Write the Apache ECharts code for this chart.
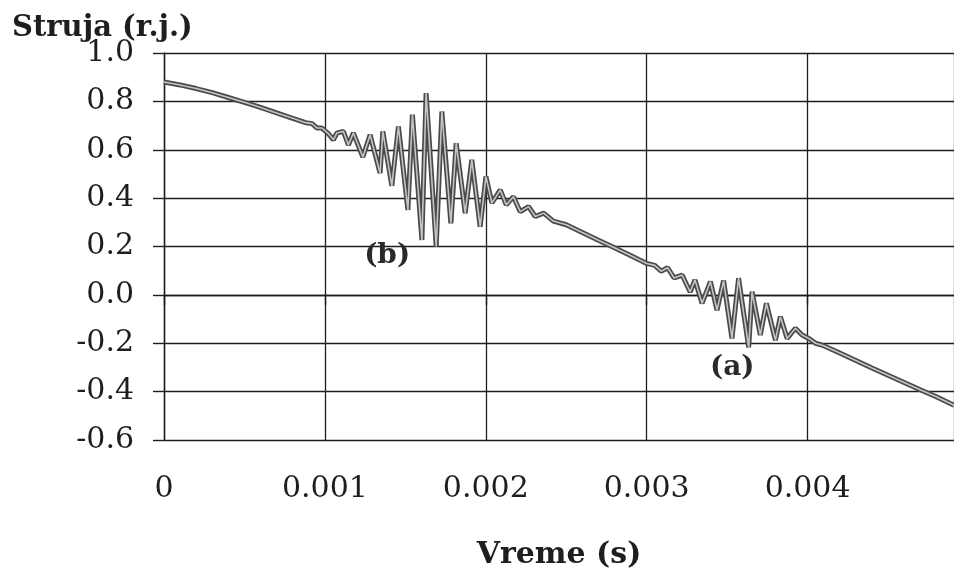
<!DOCTYPE html>
<html>
<head>
<meta charset="utf-8">
<title>Struja</title>
<script src="https://cdn.jsdelivr.net/npm/echarts@6/dist/echarts.min.js"></script>
<style>
  html, body { margin: 0; padding: 0; background: #fff; }
  #chart { width: 954px; height: 570px; }
</style>
</head>
<body>
<div id="chart"></div>
<script>
// time in ms
const timeMs = [
  0.00, 0.10, 0.20, 0.30, 0.40, 0.50, 0.60, 0.70, 0.80, 0.88, 0.92, 0.95, 0.98,
  1.02, 1.053, 1.074, 1.115, 1.146, 1.177, 1.236, 1.281, 1.343, 1.360, 1.416,
  1.457, 1.516, 1.544, 1.603, 1.629, 1.692, 1.727, 1.783, 1.816, 1.872, 1.913,
  1.965, 2.001, 2.038, 2.090, 2.127, 2.172, 2.214, 2.266, 2.307, 2.36, 2.42,
  2.50, 2.60, 2.70, 2.80, 2.90, 3.00, 3.05, 3.09, 3.13, 3.17, 3.22, 3.27, 3.30,
  3.344, 3.396, 3.437, 3.478, 3.530, 3.571, 3.634, 3.655, 3.706, 3.744, 3.800,
  3.831, 3.873, 3.924, 3.966, 4.007, 4.05, 4.10, 4.20, 4.30, 4.40, 4.50, 4.60,
  4.70, 4.80, 4.91
];
// current (r.j.)
const current = [
  0.880, 0.868, 0.853, 0.836, 0.816, 0.796, 0.775, 0.752, 0.730, 0.712, 0.708, 0.690, 0.690,
  0.668, 0.641, 0.669, 0.676, 0.620, 0.669, 0.570, 0.662, 0.503, 0.676, 0.451,
  0.696, 0.351, 0.745, 0.227, 0.834, 0.200, 0.758, 0.296, 0.627, 0.338, 0.558,
  0.282, 0.489, 0.380, 0.434, 0.372, 0.406, 0.344, 0.365, 0.324, 0.338, 0.305,
  0.290, 0.258, 0.226, 0.195, 0.163, 0.130, 0.122, 0.098, 0.112, 0.070, 0.082, 0.012, 0.062,
  -0.035, 0.055, -0.063, 0.059, -0.180, 0.069, -0.217, 0.013, -0.166, -0.035, -0.187,
  -0.090, -0.180, -0.138, -0.166, -0.180, -0.200, -0.210, -0.240, -0.271, -0.302, -0.332, -0.362,
  -0.392, -0.421, -0.456
];
const tagText = ['(b)', '(a)'];
const tagTimeMs = [1.387, 3.532];
const tagCurrent = [0.161, -0.302];

const FONT = '"DejaVu Serif", "Liberation Serif", serif';
const INK = '#1e1e1e';

let points = timeMs.map((t, i) => [t / 1000, current[i]]);
let tags = tagText.map((s, i) => ({
    coord: [tagTimeMs[i] / 1000, tagCurrent[i]],
    symbol: 'circle',
    symbolSize: 0,
    label: {
        show: true, position: 'inside', formatter: s,
        fontFamily: FONT, fontSize: 28, fontWeight: 'bold', color: '#2a2a2a'
    }
}));

let chart = echarts.init(document.getElementById('chart'), null, { renderer: 'canvas' });

chart.setOption({
    animation: false,
    backgroundColor: '#fff',
    grid: { left: 164, top: 53, right: 0, bottom: 130, containLabel: false, outerBoundsMode: 'none' },
    graphic: [{
        type: 'text', left: 12, top: 14,
        style: { text: 'Struja (r.j.)', font: 'bold 29px ' + FONT, fill: INK }
    }],
    xAxis: {
        type: 'value',
        min: 0,
        max: 0.00491,
        interval: 0.001,
        name: 'Vreme (s)',
        nameLocation: 'middle',
        nameGap: 100,
        nameTextStyle: { fontFamily: FONT, fontSize: 30, fontWeight: 'bold', color: INK },
        axisLine: { lineStyle: { color: INK, width: 1.4 } },
        axisTick: { length: 10, lineStyle: { color: INK, width: 1.4 } },
        axisLabel: {
            margin: 34, fontFamily: FONT, fontSize: 30, color: INK,
            showMaxLabel: false,
            formatter: v => (v === 0 ? '0' : v.toFixed(3))
        },
        splitLine: { show: true, lineStyle: { color: INK, width: 1.3 } }
    },
    yAxis: {
        type: 'value',
        min: -0.6,
        max: 1.0,
        interval: 0.2,
        axisLine: { show: true, lineStyle: { color: INK, width: 1.4 } },
        axisTick: { show: true, length: 11, lineStyle: { color: INK, width: 1.4 } },
        axisLabel: {
            margin: 30, fontFamily: FONT, fontSize: 30, color: INK,
            formatter: v => v.toFixed(1)
        },
        splitLine: { show: true, lineStyle: { color: INK, width: 1.3 } }
    },
    series: [
        {
            type: 'line',
            data: points,
            showSymbol: false,
            lineStyle: { color: '#4a4a4a', width: 5 },
            z: 3,
            markPoint: { data: tags, silent: true }
        },
        {
            type: 'line',
            data: points,
            showSymbol: false,
            lineStyle: { color: '#c4c4c4', width: 1.6 },
            z: 4
        }
    ]
});
</script>
</body>
</html>
